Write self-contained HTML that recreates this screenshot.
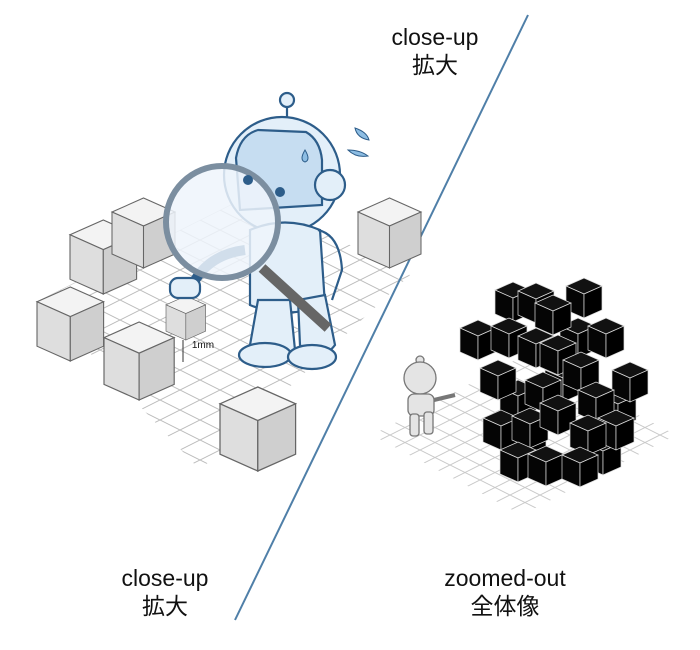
<!DOCTYPE html>
<html><head><meta charset="utf-8"><style>
html,body{margin:0;padding:0;background:#fff;}
svg{display:block}
text{font-family:"Liberation Sans","Noto Sans CJK JP",sans-serif;fill:#111;text-anchor:middle}
</style></head><body>
<svg width="700" height="650" viewBox="0 0 700 650" xmlns="http://www.w3.org/2000/svg">
<defs>
<pattern id="gL" width="40" height="20" patternUnits="userSpaceOnUse">
<path d="M-4 -2 L44 22 M-4 22 L44 -2" stroke="#bbb" stroke-width="1" fill="none"/>
</pattern>
<pattern id="gR" width="30" height="15" patternUnits="userSpaceOnUse">
<path d="M-4 -2 L34 17 M-4 17 L34 -2" stroke="#c8c8c8" stroke-width="1" fill="none"/>
</pattern>
<g id="gc">
<path d="M0 8 L18 0 L36 8 L18 16Z" fill="#f3f3f3" stroke="#666" stroke-width="0.6"/>
<path d="M0 8 L18 16 L18 40 L0 32Z" fill="#dedede" stroke="#666" stroke-width="0.6"/>
<path d="M18 16 L36 8 L36 32 L18 40Z" fill="#cfcfcf" stroke="#666" stroke-width="0.6"/>
</g>
<g id="bc">
<path d="M0 8 L18 0 L36 8 L18 16Z" fill="#111" stroke="#ddd" stroke-width="0.7"/>
<path d="M0 8 L18 16 L18 40 L0 32Z" fill="#050505" stroke="#ddd" stroke-width="0.7"/>
<path d="M18 16 L36 8 L36 32 L18 40Z" fill="#000" stroke="#ddd" stroke-width="0.7"/>
</g>
</defs>
<polygon points="40,300 250,195 410,275 200,470" fill="url(#gL)"/>
<polygon points="372,435 525,355 676,435 522,515" fill="url(#gR)"/>
<line x1="528" y1="15" x2="235" y2="620" stroke="#4f7fa8" stroke-width="2"/>
<use href="#gc" transform="translate(70,220) scale(1.85)"/>
<use href="#gc" transform="translate(112,198) scale(1.75)"/>
<use href="#gc" transform="translate(37,287) scale(1.85)"/>
<use href="#gc" transform="translate(104,322) scale(1.95)"/>
<use href="#gc" transform="translate(220,387) scale(2.1)"/>
<use href="#gc" transform="translate(358,198) scale(1.75)"/>
<use href="#gc" transform="translate(166,296) scale(1.1)"/>
<text x="203" y="348" style="font-size:10px">1mm</text>
<line x1="183" y1="340" x2="183" y2="362" stroke="#333"/>
<g stroke="#2d5d8a" stroke-width="2.2" fill="#e3eff9">
<line x1="287" y1="102" x2="287" y2="125"/>
<circle cx="287" cy="100" r="7"/>
<circle cx="282" cy="175" r="58"/>
<path d="M236 158 Q240 135 258 130 L306 132 Q320 140 322 160 L322 205 L240 210Z" fill="#c6ddf1"/>
<circle cx="330" cy="185" r="15"/>
<path d="M250 230 Q285 215 320 230 L325 305 Q285 320 250 305Z"/>
<path d="M318 230 Q340 235 342 270 L332 300" fill="none"/>
<path d="M190 290 Q205 255 245 250" fill="none" stroke-width="10"/>
<rect x="170" y="278" width="30" height="20" rx="8"/>
<path d="M258 300 L250 345 Q270 365 295 350 L290 300Z"/>
<path d="M298 300 L300 345 Q320 365 335 345 L325 295Z"/>
<ellipse cx="265" cy="355" rx="26" ry="12"/>
<ellipse cx="312" cy="357" rx="24" ry="12"/>
<line x1="262" y1="268" x2="328" y2="328" stroke="#666" stroke-width="10"/>
<circle cx="222" cy="222" r="56" fill="#eef5fb" fill-opacity="0.85" stroke="#7b8ea0" stroke-width="6"/>
</g>
<circle cx="248" cy="180" r="5" fill="#2d5d8a"/>
<circle cx="280" cy="192" r="5" fill="#2d5d8a"/>
<path d="M305 150 q-6 10 0 12 q6 -2 0 -12Z M355 128 q12 4 14 12 q-12 -2 -14 -12Z M348 150 q12 0 20 6 q-12 2 -20 -6Z" fill="#8dbde3" stroke="#2d5d8a"/>
<g stroke="#777" stroke-width="1.3" fill="#e4e4e4">
<circle cx="420" cy="360" r="4"/>
<circle cx="420" cy="378" r="16"/>
<rect x="408" y="394" width="26" height="22" rx="6"/>
<path d="M434 400 L455 395" stroke-width="4"/>
<rect x="410" y="414" width="9" height="22" rx="3"/>
<rect x="424" y="412" width="9" height="22" rx="3"/>
</g>
<use href="#bc" x="500" y="380"/><use href="#bc" x="545" y="362"/><use href="#bc" x="600" y="388"/>
<use href="#bc" x="510" y="428"/><use href="#bc" x="585" y="435"/><use href="#bc" x="560" y="318"/>
<use href="#bc" x="495" y="282"/><use href="#bc" x="518" y="283"/><use href="#bc" x="566" y="278"/>
<use href="#bc" x="535" y="295"/><use href="#bc" x="460" y="320"/><use href="#bc" x="491" y="318"/>
<use href="#bc" x="588" y="318"/><use href="#bc" x="518" y="328"/><use href="#bc" x="540" y="335"/>
<use href="#bc" x="563" y="352"/><use href="#bc" x="612" y="362"/><use href="#bc" x="480" y="360"/>
<use href="#bc" x="525" y="372"/><use href="#bc" x="578" y="382"/><use href="#bc" x="483" y="410"/>
<use href="#bc" x="512" y="408"/><use href="#bc" x="540" y="395"/><use href="#bc" x="598" y="410"/>
<use href="#bc" x="570" y="415"/><use href="#bc" x="500" y="442"/><use href="#bc" x="528" y="446"/><use href="#bc" x="562" y="447"/>
<text x="435" y="45" style="font-size:23px">close-up</text>
<text x="435" y="73" style="font-size:23px">拡大</text>
<text x="165" y="586" style="font-size:23px">close-up</text>
<text x="165" y="614" style="font-size:23px">拡大</text>
<text x="505" y="586" style="font-size:23px">zoomed-out</text>
<text x="505" y="614" style="font-size:23px">全体像</text>
</svg>
</body></html>
